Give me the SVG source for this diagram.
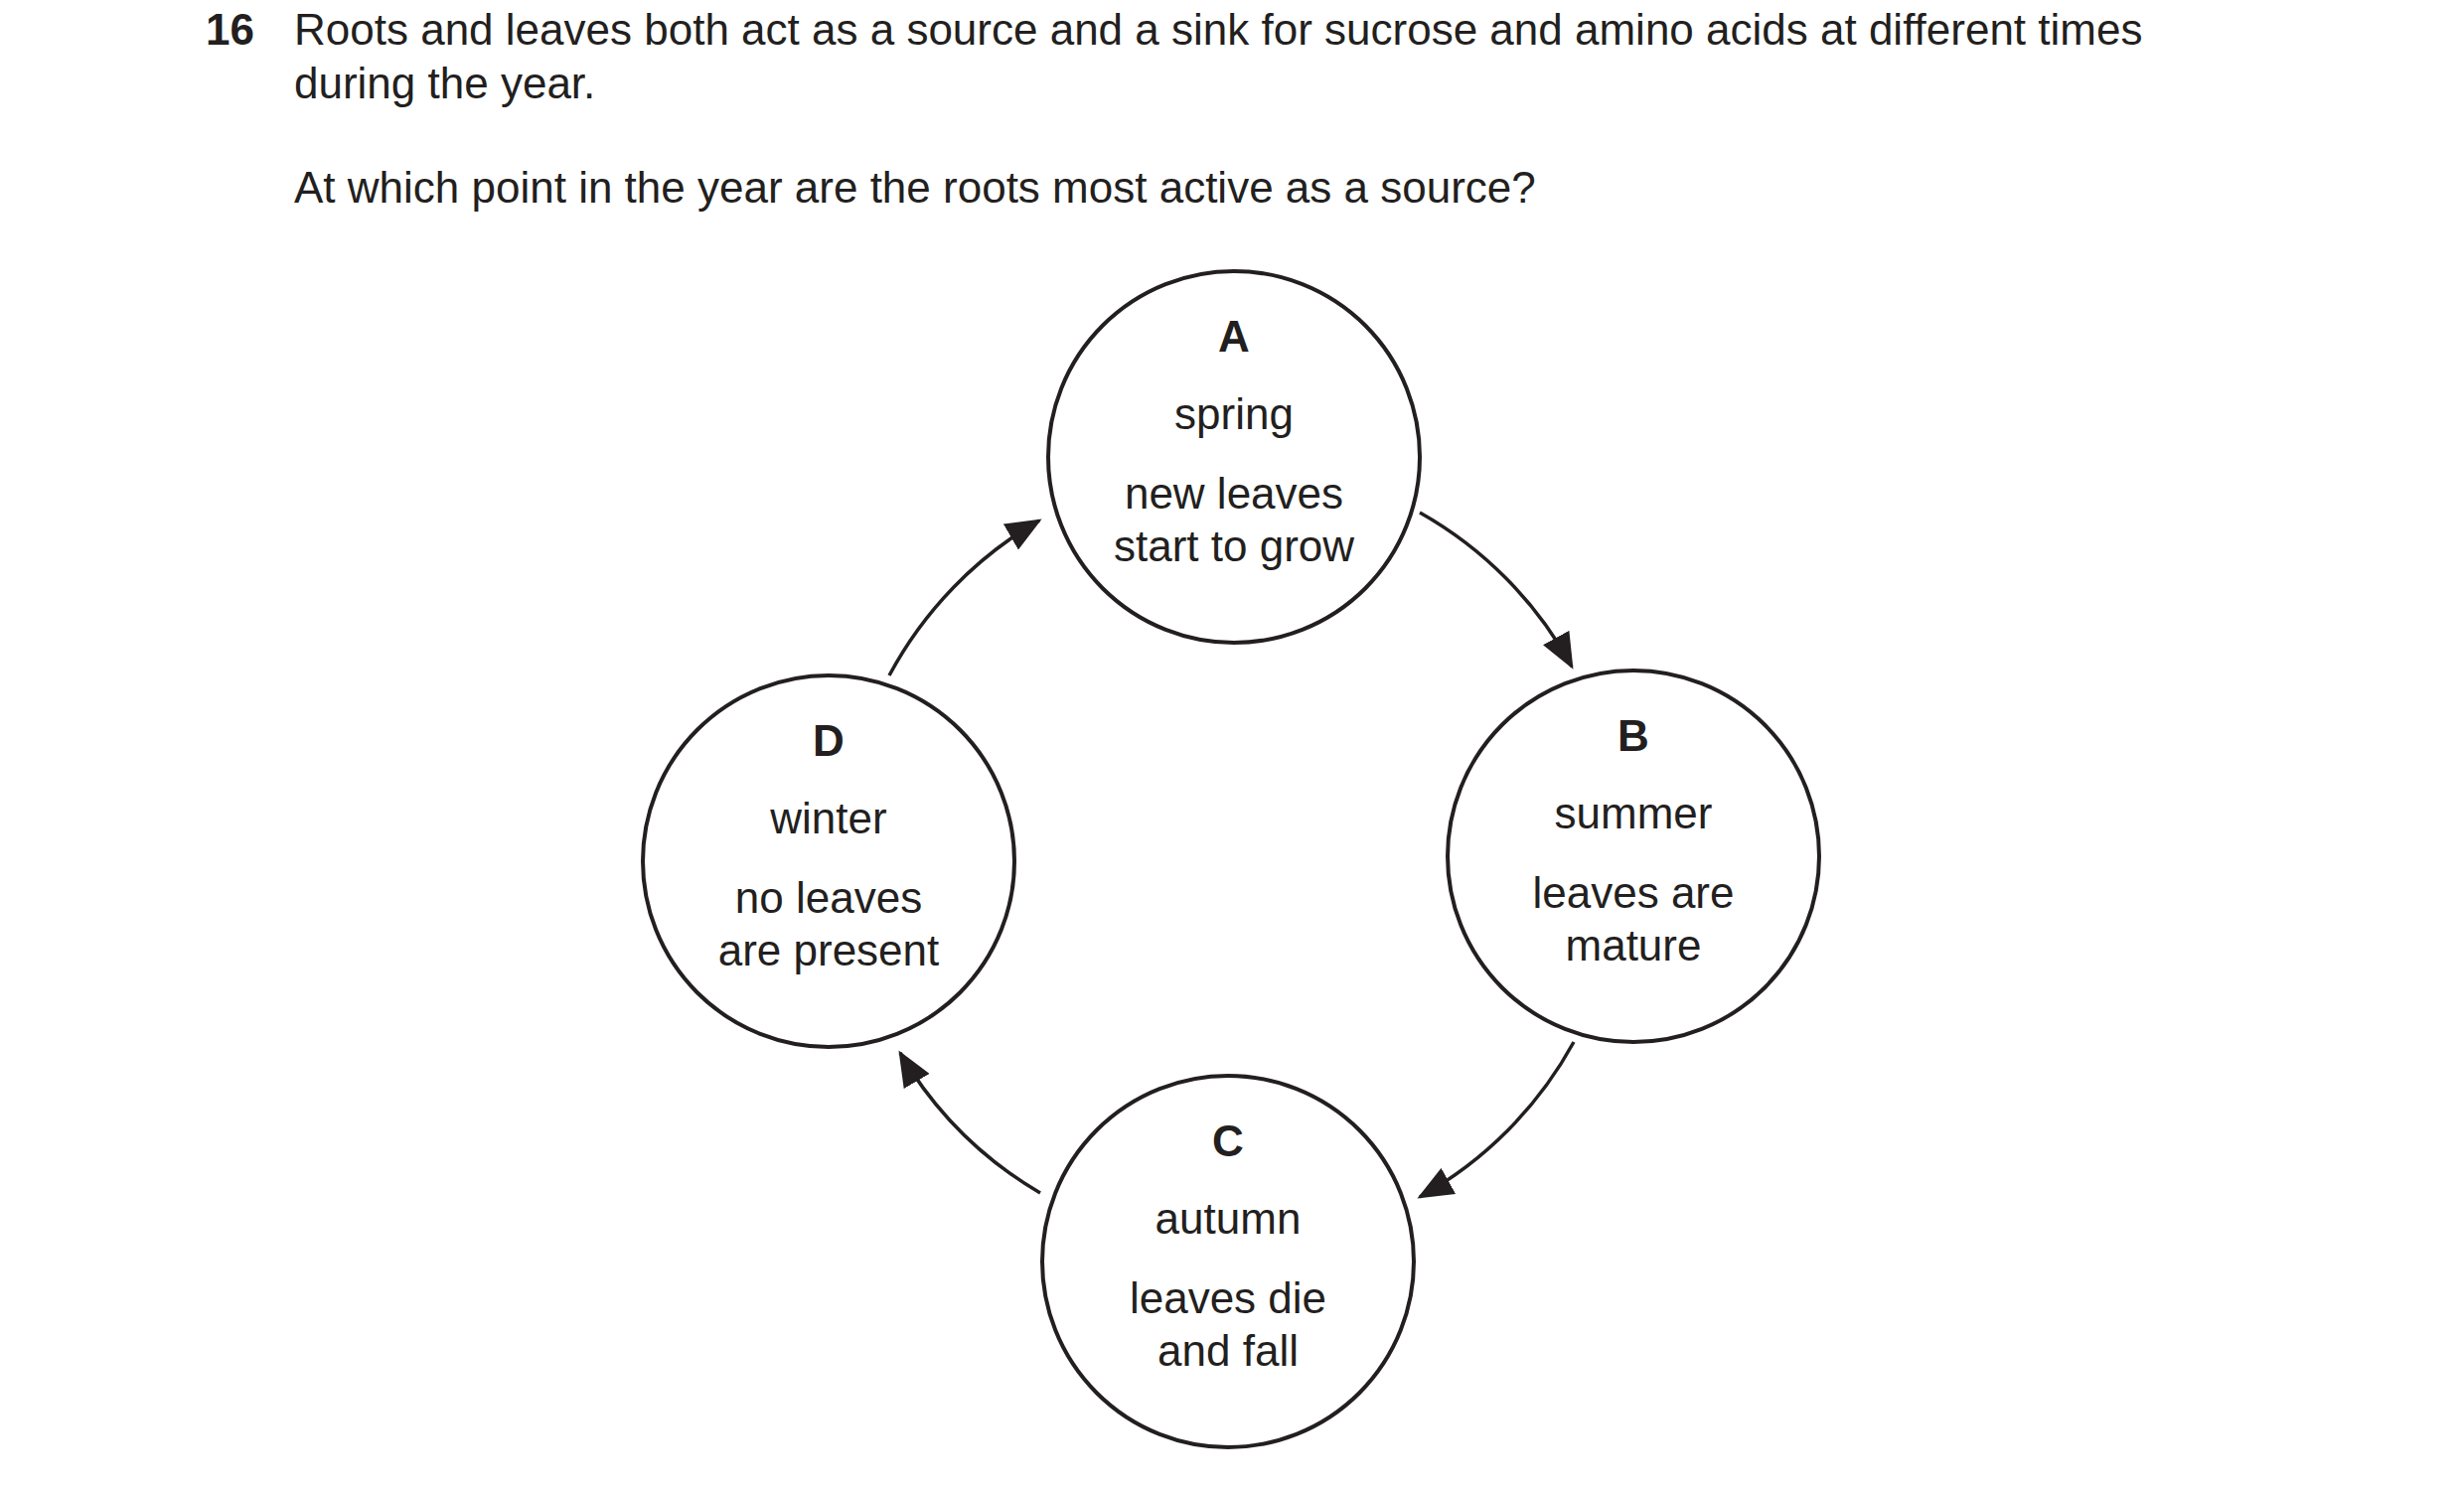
<svg xmlns="http://www.w3.org/2000/svg" width="2480" height="1498" viewBox="0 0 2480 1498">
<style>
text{font-family:"Liberation Sans",Arial,sans-serif;font-size:44px;fill:#231f20}
.c{text-anchor:middle}
.b{font-weight:bold}
circle{fill:none;stroke:#231f20;stroke-width:4}
.e{fill:none;stroke:#231f20;stroke-width:3.5;marker-end:url(#ar)}
</style>
<defs><marker id="ar" viewBox="0 0 12 10" refX="11" refY="5" markerWidth="36" markerHeight="30" markerUnits="userSpaceOnUse" orient="auto"><path d="M0,0L12,5L0,10Z" fill="#231f20"/></marker></defs>
<rect width="2480" height="1498" fill="#fff"/>
<g id="question">
<text x="207" y="45" class="b">16</text>
<text x="296" y="45">Roots and leaves both act as a source and a sink for sucrose and amino acids at different times</text>
<text x="296" y="99">during the year.</text>
<text x="296" y="204">At which point in the year are the roots most active as a source?</text>
</g>
<g id="A"><circle cx="1242" cy="460" r="187"/>
<text class="c b" x="1242" y="354">A</text><text class="c" x="1242" y="432">spring</text><text class="c" x="1242" y="512">new leaves</text><text class="c" x="1242" y="565">start to grow</text></g>
<g id="B"><circle cx="1644" cy="862" r="187"/>
<text class="c b" x="1644" y="756">B</text><text class="c" x="1644" y="834">summer</text><text class="c" x="1644" y="914">leaves are</text><text class="c" x="1644" y="967">mature</text></g>
<g id="C"><circle cx="1236" cy="1270" r="187"/>
<text class="c b" x="1236" y="1164">C</text><text class="c" x="1236" y="1242">autumn</text><text class="c" x="1236" y="1322">leaves die</text><text class="c" x="1236" y="1375">and fall</text></g>
<g id="D"><circle cx="834" cy="867" r="187"/>
<text class="c b" x="834" y="761">D</text><text class="c" x="834" y="839">winter</text><text class="c" x="834" y="919">no leaves</text><text class="c" x="834" y="972">are present</text></g>
<g id="connectors">
<path class="e" d="M1429,516 A395,395 0 0 1 1582,671"/>
<path class="e" d="M1584,1049 A395,395 0 0 1 1429,1205"/>
<path class="e" d="M1047,1201 A395,395 0 0 1 906,1060"/>
<path class="e" d="M895,680 A395,395 0 0 1 1046,524"/>
</g>
</svg>
